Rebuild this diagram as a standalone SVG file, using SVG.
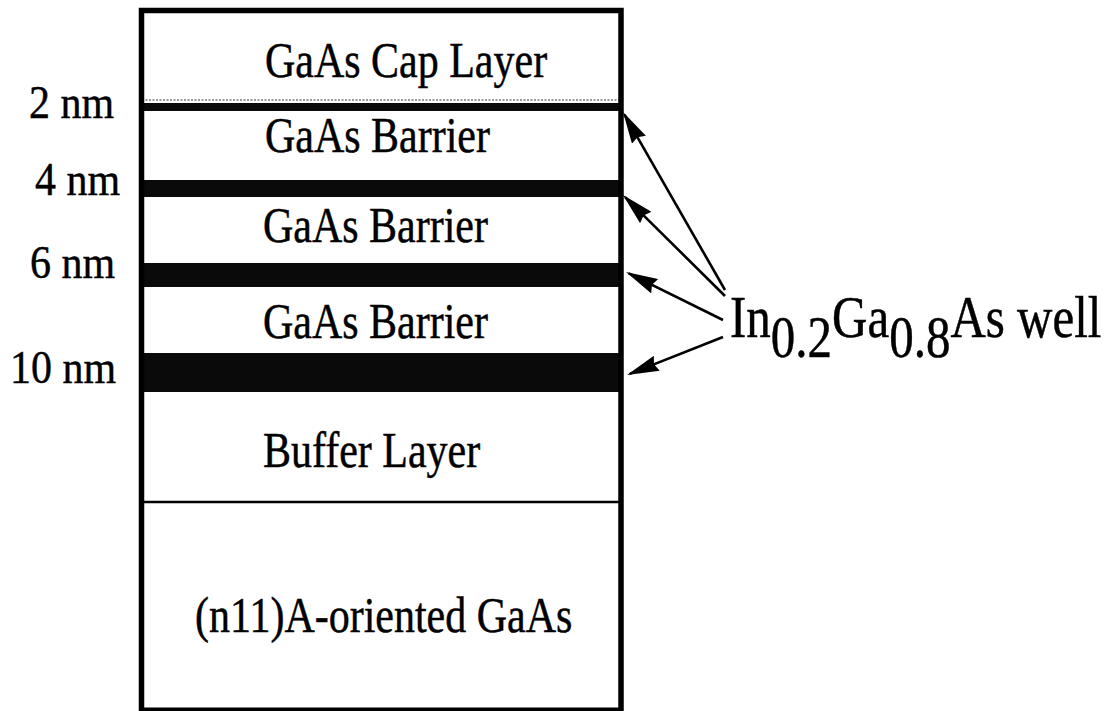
<svg xmlns="http://www.w3.org/2000/svg" width="1118" height="711" viewBox="0 0 1118 711">
<style>
  .t { font-family: "Liberation Serif", "Times New Roman", "DejaVu Serif", serif; fill: #000; stroke: #000; stroke-width: 0.4; }
  .box { font-size: 42px; }
  .lbl { font-size: 42px; }
  .well { fill: #0a0a0a; }
  .conn line { stroke: #000; stroke-width: 2.6; }
</style>
<defs>
  <marker id="ah" viewBox="0 0 32 16" markerWidth="32" markerHeight="16" refX="29" refY="8" orient="auto" markerUnits="userSpaceOnUse">
    <path d="M0,0 L32,8 L0,16 L3,8 z" fill="#000"/>
  </marker>
</defs>
<rect width="1118" height="711" fill="#fff"/>

<g id="stack">
  <rect x="141.5" y="10.5" width="479.5" height="700" fill="#fff" stroke="none"/>
  <g id="cap-layer">
    <text class="t box" transform="translate(265,77) scale(1,1.22)">GaAs Cap Layer</text>
    <line x1="142" y1="100" x2="620" y2="100" stroke="#777" stroke-width="1.5" stroke-dasharray="2 1.5"/>
  </g>
  <g id="well-2nm"><rect class="well" x="141" y="103" width="480" height="8"/></g>
  <g id="barrier-1"><text class="t box" transform="translate(265,152) scale(1,1.22)">GaAs Barrier</text></g>
  <g id="well-4nm"><rect class="well" x="141" y="180" width="480" height="17"/></g>
  <g id="barrier-2"><text class="t box" transform="translate(263,242) scale(1,1.22)">GaAs Barrier</text></g>
  <g id="well-6nm"><rect class="well" x="141" y="263" width="480" height="24"/></g>
  <g id="barrier-3"><text class="t box" transform="translate(263,338) scale(1,1.22)">GaAs Barrier</text></g>
  <g id="well-10nm"><rect class="well" x="141" y="353" width="480" height="39"/></g>
  <g id="buffer-layer">
    <text class="t box" transform="translate(263,467) scale(1,1.22)">Buffer Layer</text>
    <line x1="141" y1="502" x2="621" y2="502" stroke="#000" stroke-width="2.5"/>
  </g>
  <g id="substrate"><text class="t box" transform="translate(195,632) scale(1,1.22)">(n11)A-oriented GaAs</text></g>
  <path d="M141.5,712 V10.5 H621 V712" fill="none" stroke="#000" stroke-width="5.5"/>
  <line x1="139" y1="709.5" x2="623" y2="709.5" stroke="#000" stroke-width="4"/>
</g>

<g id="thickness-labels">
  <text class="t lbl" transform="translate(29,118) scale(1,1.12)">2 nm</text>
  <text class="t lbl" transform="translate(35,195) scale(1,1.12)">4 nm</text>
  <text class="t lbl" transform="translate(30,278) scale(1,1.12)">6 nm</text>
  <text class="t lbl" transform="translate(10,383) scale(1,1.12)">10 nm</text>
</g>

<g id="well-label">
  <text class="t" font-size="49" transform="translate(730,337) scale(1,1.2)">In<tspan dy="17">0.2</tspan><tspan dy="-17">Ga</tspan><tspan dy="17">0.8</tspan><tspan dy="-17">As well</tspan></text>
</g>

<g id="connectors" class="conn">
  <line x1="725" y1="290" x2="624.5" y2="114.6" marker-end="url(#ah)"/>
  <line x1="725" y1="296" x2="625.1" y2="197.1" marker-end="url(#ah)"/>
  <line x1="723" y1="320" x2="628.7" y2="273.3" marker-end="url(#ah)"/>
  <line x1="723" y1="337" x2="629.8" y2="373.9" marker-end="url(#ah)"/>
</g>
</svg>
